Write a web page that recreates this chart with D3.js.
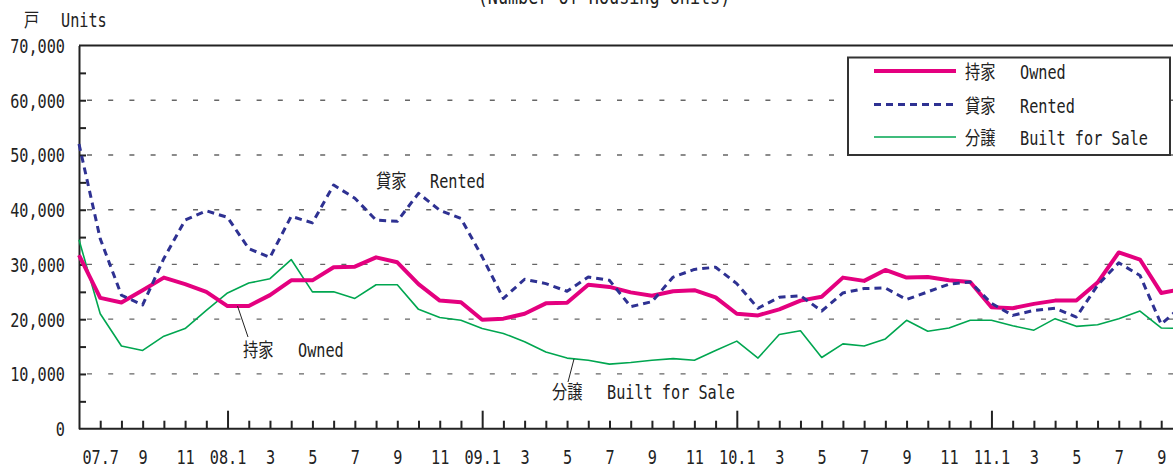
<!DOCTYPE html>
<html lang="ja">
<head>
<meta charset="UTF-8">
<title>新設住宅着工戸数</title>
<script src="https://cdn.jsdelivr.net/npm/d3@7"></script>
<style>
  body { margin: 0; background: #fff; }
  text { font-family: "DejaVu Sans Mono", "Noto Sans CJK JP", monospace; fill: #222; }
</style>
</head>
<body>
<script>
  // 月 (07.6 〜 11.10)
  const months = ["07.6","07.7","07.8","07.9","07.10","07.11","07.12",
    "08.1","08.2","08.3","08.4","08.5","08.6","08.7","08.8","08.9","08.10","08.11","08.12",
    "09.1","09.2","09.3","09.4","09.5","09.6","09.7","09.8","09.9","09.10","09.11","09.12",
    "10.1","10.2","10.3","10.4","10.5","10.6","10.7","10.8","10.9","10.10","10.11","10.12",
    "11.1","11.2","11.3","11.4","11.5","11.6","11.7","11.8","11.9","11.10"]

  // 持家 Owned
  const owned = [31700, 23900, 23050, 25300, 27600, 26400, 25000,
    22400, 22400, 24400, 27100, 27100, 29500, 29600, 31300, 30400, 26400, 23400, 23100,
    19900, 20100, 21000, 22900, 23000, 26300, 25900, 24900, 24300, 25100, 25300, 24000,
    21000, 20700, 21800, 23400, 24100, 27600, 27000, 29000, 27600, 27700, 27100, 26800,
    22200, 22000, 22800, 23400, 23400, 26700, 32200, 30900, 24800, 25500]

  // 貸家 Rented
  const rented = [52000, 34700, 24400, 22600, 31100, 38100, 39800,
    38600, 32900, 31300, 38800, 37600, 44500, 42100, 38100, 37900, 43000, 39900, 38400,
    31400, 23800, 27300, 26500, 25100, 27700, 27100, 22300, 23200, 27700, 29100, 29500,
    26500, 22000, 24000, 24300, 21500, 24800, 25600, 25700, 23600, 25000, 26400, 26800,
    22900, 20700, 21600, 22000, 20400, 26200, 30300, 28000, 19100, 22500]

  // 分譲 Built for Sale
  const built = [34500, 21000, 15100, 14300, 16900, 18300, 21600,
    24800, 26600, 27400, 30900, 25000, 25000, 23800, 26300, 26300, 21800, 20300, 19800,
    18300, 17400, 15900, 14000, 12900, 12500, 11800, 12100, 12500, 12800, 12500, 14300,
    16000, 12900, 17200, 17900, 13000, 15500, 15100, 16400, 19800, 17800, 18400, 19800,
    19800, 18800, 18000, 20100, 18700, 19000, 20100, 21500, 18400, 18300]

  const yTicks = [0, 10000, 20000, 30000, 40000, 50000, 60000, 70000]
  const yMinor = [5000, 15000, 25000, 35000, 45000, 55000, 65000]

  const width = 1173
  const height = 470
  const sx = 0.8   // 文字を細くする
  const fs = 19

  const svg = d3.select("body").append("svg")
    .attr("width", width)
    .attr("height", height)

  const x = d3.scaleLinear().domain([0, 51]).range([79, 1161.2])
  const y = d3.scaleLinear().domain([0, 70000]).range([428.7, 45.5])

  // 文字ヘルパー
  function label(tx, ty, str, anchor, size) {
    return svg.append("text")
      .attr("transform", `translate(${tx},${ty}) scale(${sx},1)`)
      .attr("text-anchor", anchor || "start")
      .attr("font-size", size || fs)
      .text(str)
  }

  // タイトル (上が切れている)
  label(604, 4, "(Number of Housing Units)", "middle", 21)
  label(24, 27, "戸")
  label(61, 27, "Units")

  // 目盛線
  svg.append("g").selectAll("line")
    .data(yTicks.slice(1, 7))
    .enter().append("line")
    .attr("x1", 87).attr("x2", width)
    .attr("y1", d => y(d)).attr("y2", d => y(d))
    .attr("stroke", "#666")
    .attr("stroke-width", 1.3)
    .attr("stroke-dasharray", "5,16.2")

  // 上枠
  svg.append("line")
    .attr("x1", 79).attr("x2", width)
    .attr("y1", y(70000)).attr("y2", y(70000))
    .attr("stroke", "#222").attr("stroke-width", 2)

  // Y軸
  const yAxis = svg.append("g")
    .attr("transform", "translate(79,0)")
    .call(d3.axisLeft(y).tickValues(yTicks).tickSize(0).tickPadding(14).tickFormat(d3.format(",")))
  yAxis.select(".domain").attr("stroke", "#222").attr("stroke-width", 2)
  yAxis.selectAll("text")
    .attr("font-size", fs)
    .attr("font-family", null)
    .attr("x", -14 / sx)
    .attr("dy", "0.36em")
    .attr("transform", `scale(${sx},1)`)

  const yMinorAxis = svg.append("g")
    .attr("transform", "translate(79,0)")
    .call(d3.axisLeft(y).tickValues(yMinor.concat(yTicks.slice(1, 7))).tickSize(-7).tickFormat(""))
  yMinorAxis.select(".domain").remove()
  yMinorAxis.selectAll("line").attr("stroke", "#222").attr("stroke-width", 2)

  // X軸
  const idx = d3.range(1, months.length)
  const xAxis = svg.append("g")
    .attr("transform", `translate(0,${y(0)})`)
    .call(d3.axisBottom(x).tickValues(idx).tickSizeInner(-8).tickSizeOuter(0).tickPadding(22)
      .tickFormat(i => {
        const [yy, mm] = months[i].split(".")
        if (+mm % 2 === 0) return ""
        if (i === 1 || mm === "1") return months[i]
        return mm
      }))
  xAxis.select(".domain").attr("stroke", "#222").attr("stroke-width", 2)
    .attr("d", `M79,0H${width}`)
  xAxis.selectAll("line")
    .attr("stroke", "#222").attr("stroke-width", 2)
    .attr("y2", i => months[i].endsWith(".1") ? -18 : -8)
  xAxis.selectAll("text")
    .attr("font-size", fs)
    .attr("font-family", null)
    .attr("transform", `scale(${sx},1)`)

  // 折れ線
  const line = d3.line().x((d, i) => x(i)).y(d => y(d))
  const series = [
    { name: "分譲", en: "Built for Sale", data: built, color: "#00a650", w: 1.6, dash: null },
    { name: "持家", en: "Owned", data: owned, color: "#e4007f", w: 4, dash: null },
    { name: "貸家", en: "Rented", data: rented, color: "#2e3192", w: 3, dash: "7,5" }
  ]
  svg.append("g").selectAll("path")
    .data(series)
    .enter().append("path")
    .attr("d", d => line(d.data))
    .attr("fill", "none")
    .attr("stroke", d => d.color)
    .attr("stroke-width", d => d.w)
    .attr("stroke-dasharray", d => d.dash)
    .attr("stroke-linejoin", "round")

  // 注記
  label(376, 188, "貸家")
  label(430, 188, "Rented")
  label(243, 357, "持家")
  label(298, 357, "Owned")
  label(552, 399, "分譲")
  label(607, 399, "Built for Sale")
  svg.append("line").attr("x1", 237.5).attr("y1", 306).attr("x2", 248).attr("y2", 337)
    .attr("stroke", "#222").attr("stroke-width", 1)
  svg.append("line").attr("x1", 574).attr("y1", 359).attr("x2", 568).attr("y2", 382)
    .attr("stroke", "#222").attr("stroke-width", 1)

  // 凡例
  const legend = svg.append("g")
  legend.append("rect")
    .attr("x", 848).attr("y", 57.5).attr("width", 322).attr("height", 97.5)
    .attr("fill", "#fff").attr("stroke", "#333").attr("stroke-width", 2)
  const legendItems = [series[1], series[2], series[0]]
  const rowY = [71, 104.5, 137]
  legendItems.forEach((s, i) => {
    legend.append("line")
      .attr("x1", 874).attr("x2", 956)
      .attr("y1", rowY[i]).attr("y2", rowY[i])
      .attr("stroke", s.color)
      .attr("stroke-width", s.w)
      .attr("stroke-dasharray", s.dash)
    label(965, rowY[i] + 8, s.name)
    label(1020, rowY[i] + 8, s.en)
  })
</script>
</body>
</html>
